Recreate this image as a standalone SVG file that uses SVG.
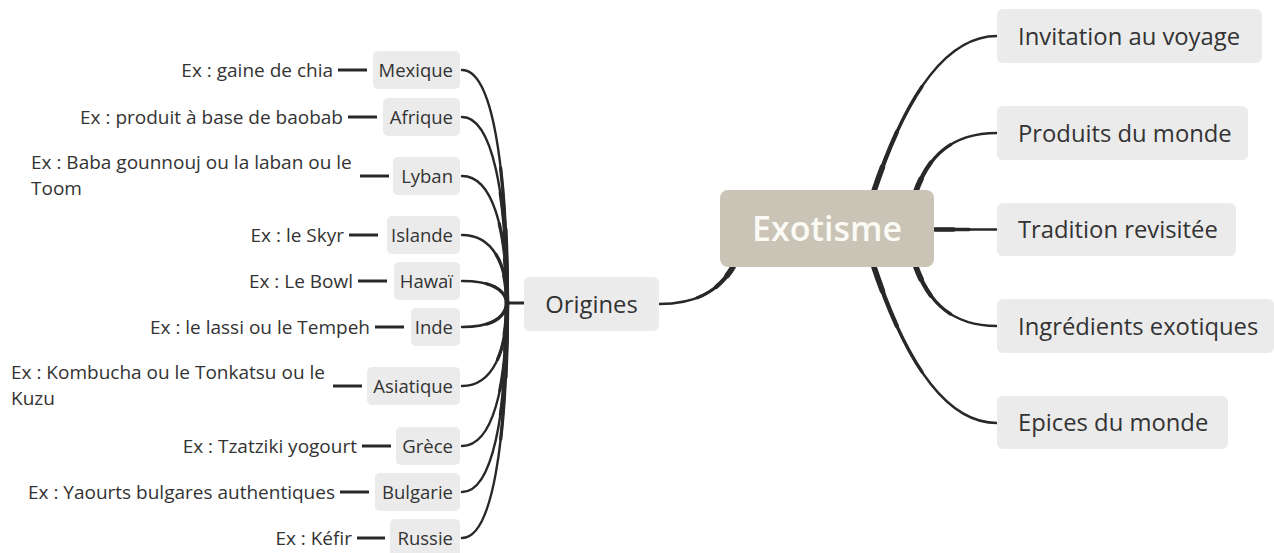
<svg xmlns="http://www.w3.org/2000/svg" xmlns:xlink="http://www.w3.org/1999/xlink" width="1274" height="553" viewBox="0 0 1274 553">
<style>
text{font-family:"Open Sans","Liberation Sans",sans-serif;fill:#333333}
.s{font-size:18.5px}
.x{font-size:19px}
.m{font-size:23.8px}
.e{font-size:34px;font-weight:600;fill:#fbfaf4}
.box{fill:#ebebeb}
.c{fill:none;stroke:#282828;stroke-linecap:round}
.w1{stroke-width:2.4}
.w2{stroke-width:3.3;stroke-dasharray:55 200}
.w3{stroke-width:4.3;stroke-dasharray:30 200}
.w4{stroke-width:5.6;stroke-dasharray:12 200}
.d{stroke:#282828;stroke-width:3;stroke-linecap:butt}
</style>
<defs>
<path id="pe1" pathLength="100" d="M874,191 C905,98 945,36 997,36"/>
<path id="pe2" pathLength="100" d="M916,191 C928,158 950,133 997,133"/>
<path id="pe3" pathLength="100" d="M935,229.5 L997,229.5"/>
<path id="pe4" pathLength="100" d="M916,267 C928,300 950,326 997,326"/>
<path id="pe5" pathLength="100" d="M874,267 C905,360 945,423 997,423"/>
<path id="po" pathLength="100" d="M733,267 C718,292 695,304 659,304"/>
<path id="f1" pathLength="100" d="M507,303 C507,164 492,70 462,70"/>
<path id="f2" pathLength="100" d="M507,303 C507,193 492,117 462,117"/>
<path id="f3" pathLength="100" d="M507,303 C507,228 492,176 462,176"/>
<path id="f4" pathLength="100" d="M507,303 C507,263 492,235 462,235"/>
<path id="f5" pathLength="100" d="M507,303 C505,290 492,281 462,281"/>
<path id="f6" pathLength="100" d="M507,303 C505,318 492,327 462,327"/>
<path id="f7" pathLength="100" d="M507,303 C507,353 492,386 462,386"/>
<path id="f8" pathLength="100" d="M507,303 C507,389 492,446 462,446"/>
<path id="f9" pathLength="100" d="M507,303 C507,417 492,492 462,492"/>
<path id="f10" pathLength="100" d="M507,303 C507,444 492,538 462,538"/>
</defs>
<g id="connectors" class="c">
<use xlink:href="#pe1" class="w1"/><use xlink:href="#pe1" class="w2"/><use xlink:href="#pe1" class="w3"/><use xlink:href="#pe1" class="w4"/>
<use xlink:href="#pe2" class="w1"/><use xlink:href="#pe2" class="w2"/><use xlink:href="#pe2" class="w3"/><use xlink:href="#pe2" class="w4"/>
<use xlink:href="#pe3" class="w1"/><use xlink:href="#pe3" class="w2"/><use xlink:href="#pe3" class="w3"/>
<use xlink:href="#pe4" class="w1"/><use xlink:href="#pe4" class="w2"/><use xlink:href="#pe4" class="w3"/><use xlink:href="#pe4" class="w4"/>
<use xlink:href="#pe5" class="w1"/><use xlink:href="#pe5" class="w2"/><use xlink:href="#pe5" class="w3"/><use xlink:href="#pe5" class="w4"/>
<use xlink:href="#po" class="w1"/><use xlink:href="#po" class="w2"/><use xlink:href="#po" class="w3"/><use xlink:href="#po" class="w4"/>
<path d="M507,303 L524,303" stroke-width="3"/>
<use xlink:href="#f1" class="w1"/><use xlink:href="#f1" class="w2"/><use xlink:href="#f1" class="w3"/>
<use xlink:href="#f2" class="w1"/><use xlink:href="#f2" class="w2"/><use xlink:href="#f2" class="w3"/>
<use xlink:href="#f3" class="w1"/><use xlink:href="#f3" class="w2"/><use xlink:href="#f3" class="w3"/>
<use xlink:href="#f4" class="w1"/><use xlink:href="#f4" class="w2"/><use xlink:href="#f4" class="w3"/>
<use xlink:href="#f5" class="w1"/><use xlink:href="#f5" class="w2"/>
<use xlink:href="#f6" class="w1"/><use xlink:href="#f6" class="w2"/>
<use xlink:href="#f7" class="w1"/><use xlink:href="#f7" class="w2"/><use xlink:href="#f7" class="w3"/>
<use xlink:href="#f8" class="w1"/><use xlink:href="#f8" class="w2"/><use xlink:href="#f8" class="w3"/>
<use xlink:href="#f9" class="w1"/><use xlink:href="#f9" class="w2"/><use xlink:href="#f9" class="w3"/>
<use xlink:href="#f10" class="w1"/><use xlink:href="#f10" class="w2"/><use xlink:href="#f10" class="w3"/>
<line class="d" x1="338" y1="70" x2="367" y2="70"/>
<line class="d" x1="348" y1="117" x2="377" y2="117"/>
<line class="d" x1="360" y1="176" x2="389" y2="176"/>
<line class="d" x1="349" y1="235" x2="378" y2="235"/>
<line class="d" x1="358" y1="281" x2="387" y2="281"/>
<line class="d" x1="375" y1="327" x2="404" y2="327"/>
<line class="d" x1="333" y1="386" x2="362" y2="386"/>
<line class="d" x1="362" y1="446" x2="391" y2="446"/>
<line class="d" x1="340" y1="492" x2="369" y2="492"/>
<line class="d" x1="357" y1="538" x2="385" y2="538"/>
</g>
<g id="exotisme">
<rect x="720" y="190" width="214" height="77" rx="8" fill="#c9c4b6"/>
<text class="e" x="827" y="241" text-anchor="middle">Exotisme</text>
</g>
<g id="invitation"><rect class="box" x="997" y="9" width="265" height="54" rx="6"/><text class="m" x="1018" y="44.5">Invitation au voyage</text></g>
<g id="produits"><rect class="box" x="997" y="106" width="251" height="54" rx="6"/><text class="m" x="1018" y="141.5">Produits du monde</text></g>
<g id="tradition"><rect class="box" x="997" y="203" width="239" height="53" rx="6"/><text class="m" x="1018" y="238">Tradition revisitée</text></g>
<g id="ingredients"><rect class="box" x="997" y="299" width="277" height="54" rx="6"/><text class="m" x="1018" y="334.5">Ingrédients exotiques</text></g>
<g id="epices"><rect class="box" x="997" y="396" width="231" height="53" rx="6"/><text class="m" x="1018" y="431">Epices du monde</text></g>
<g id="origines"><rect class="box" x="524" y="277" width="135" height="54" rx="6"/><text class="m" x="591.5" y="312.5" text-anchor="middle">Origines</text></g>
<g id="mexique"><rect class="box" x="373" y="51" width="87" height="38" rx="5"/><text class="s" x="453" y="76.5" text-anchor="end">Mexique</text></g>
<g id="ex-mexique"><text class="x" x="333" y="76.5" text-anchor="end">Ex : gaine de chia</text></g>
<g id="afrique"><rect class="box" x="383" y="98" width="77" height="38" rx="5"/><text class="s" x="453" y="123.5" text-anchor="end">Afrique</text></g>
<g id="ex-afrique"><text class="x" x="343" y="123.5" text-anchor="end">Ex : produit à base de baobab</text></g>
<g id="lyban"><rect class="box" x="393" y="157" width="67" height="38" rx="5"/><text class="s" x="453" y="182.5" text-anchor="end">Lyban</text></g>
<g id="ex-lyban"><text class="x" x="31" y="169">Ex : Baba gounnouj ou la laban ou le</text><text class="x" x="31" y="195">Toom</text></g>
<g id="islande"><rect class="box" x="387" y="216" width="73" height="38" rx="5"/><text class="s" x="453" y="241.5" text-anchor="end">Islande</text></g>
<g id="ex-islande"><text class="x" x="344" y="241.5" text-anchor="end">Ex : le Skyr</text></g>
<g id="hawai"><rect class="box" x="394" y="262" width="66" height="38" rx="5"/><text class="s" x="453" y="287.5" text-anchor="end">Hawaï</text></g>
<g id="ex-hawai"><text class="x" x="353" y="287.5" text-anchor="end">Ex : Le Bowl</text></g>
<g id="inde"><rect class="box" x="411" y="308" width="49" height="38" rx="5"/><text class="s" x="453" y="333.5" text-anchor="end">Inde</text></g>
<g id="ex-inde"><text class="x" x="370" y="333.5" text-anchor="end">Ex : le lassi ou le Tempeh</text></g>
<g id="asiatique"><rect class="box" x="367" y="367" width="93" height="38" rx="5"/><text class="s" x="453" y="392.5" text-anchor="end">Asiatique</text></g>
<g id="ex-asiatique"><text class="x" x="11" y="379">Ex : Kombucha ou le Tonkatsu ou le</text><text class="x" x="11" y="405">Kuzu</text></g>
<g id="grece"><rect class="box" x="396" y="427" width="64" height="38" rx="5"/><text class="s" x="453" y="452.5" text-anchor="end">Grèce</text></g>
<g id="ex-grece"><text class="x" x="357" y="452.5" text-anchor="end">Ex : Tzatziki yogourt</text></g>
<g id="bulgarie"><rect class="box" x="375" y="473" width="85" height="38" rx="5"/><text class="s" x="453" y="498.5" text-anchor="end">Bulgarie</text></g>
<g id="ex-bulgarie"><text class="x" x="335" y="498.5" text-anchor="end">Ex : Yaourts bulgares authentiques</text></g>
<g id="russie"><rect class="box" x="390" y="519" width="70" height="38" rx="5"/><text class="s" x="453" y="544.5" text-anchor="end">Russie</text></g>
<g id="ex-russie"><text class="x" x="352" y="544.5" text-anchor="end">Ex : Kéfir</text></g>
</svg>
